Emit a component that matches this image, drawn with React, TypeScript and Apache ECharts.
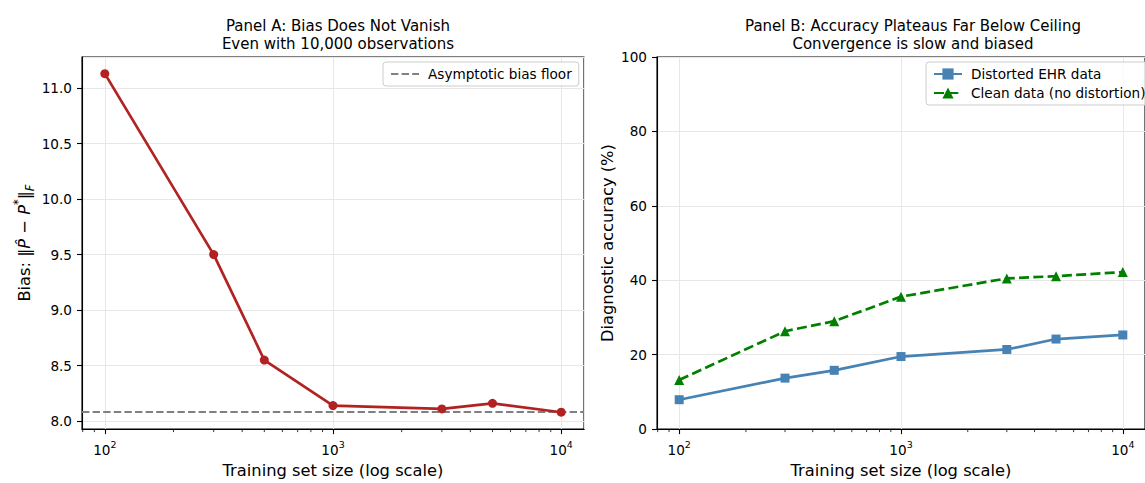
import { useEffect, useRef } from 'react';
import * as echarts from 'echarts';

// ---- data ----
const trainSizes = [100, 300, 500, 1000, 3000, 5000, 10000];
const biasValues = [11.13, 9.5, 8.55, 8.14, 8.11, 8.16, 8.08];
const biasFloor = 8.08;
const distortedAcc = [7.9, 13.7, 15.8, 19.5, 21.4, 24.2, 25.3];
const cleanAcc = [13.2, 26.3, 29.0, 35.6, 40.5, 41.1, 42.2];
const minorTickValues = [80, 90, 200, 300, 400, 500, 600, 700, 800, 900, 2000, 3000, 4000, 5000, 6000, 7000, 8000, 9000];

const X_MIN = Math.pow(10, 1.9);
const X_MAX = Math.pow(10, 4.1);
const BIAS_MIN = 7.928;
const BIAS_MAX = 11.28;
const ACC_MIN = 0;
const ACC_MAX = 100;

const FONT = 'DejaVu Sans';
const TICK_FS = 13.6;
const LABEL_FS = 16.3;
const TITLE_FS = 15;

const GRID_A = { left: 82, top: 57, width: 502, height: 375 };
const GRID_B = { left: 657, top: 57, width: 503, height: 375 };

function pow10Label(v: number) {
  const e = Math.round(Math.log10(v));
  return '{b|10}{e|' + e + '}';
}

function xAxisCfg(gridIndex: number) {
  return {
    type: 'log',
    logBase: 10,
    gridIndex,
    min: X_MIN,
    max: X_MAX,
    axisLine: { show: true, lineStyle: { color: '#000', width: 1.1 } },
    axisTick: { show: true, length: 5, lineStyle: { color: '#000', width: 1.1 } },
    axisLabel: {
      showMinLabel: false,
      showMaxLabel: false,
      margin: 10,
      formatter: (v: number) => pow10Label(v),
      rich: {
        b: { fontFamily: FONT, fontSize: TICK_FS, color: '#000', lineHeight: 18, verticalAlign: 'bottom' },
        e: { fontFamily: FONT, fontSize: 9.5, color: '#000', lineHeight: 14, verticalAlign: 'top' },
      },
    },
    splitLine: { show: true, lineStyle: { color: '#e7e7e7', width: 1 } },
    name: 'Training set size (log scale)',
    nameLocation: 'middle',
    nameGap: 32,
    nameTextStyle: { fontFamily: FONT, fontSize: LABEL_FS, color: '#000' },
  };
}

function minorTickSeries(xAxisIndex: number, yAxisIndex: number, yMin: number) {
  return {
    type: 'custom',
    xAxisIndex,
    yAxisIndex,
    silent: true,
    clip: false,
    z: 10,
    data: minorTickValues.map((v) => [v, yMin]),
    renderItem: (_params: any, api: any) => {
      const p = api.coord([api.value(0), yMin]);
      return {
        type: 'line',
        shape: { x1: p[0], y1: p[1], x2: p[0], y2: p[1] + 3 },
        style: { stroke: '#000', lineWidth: 0.8 },
      };
    },
  };
}

const legendBox = {
  orient: 'vertical',
  padding: [5, 7, 5, 7],
  itemGap: 5,
  itemWidth: 28,
  itemHeight: 14,
  backgroundColor: 'rgba(255,255,255,0.8)',
  borderColor: '#cccccc',
  borderWidth: 1,
  borderRadius: 3,
  textStyle: { fontFamily: FONT, fontSize: TICK_FS, color: '#000', padding: [0, 0, 0, 4] },
};

export default function App() {
  const ref = useRef<HTMLDivElement>(null);
  useEffect(() => {
    if (!ref.current) return;
    const chart = echarts.init(ref.current, undefined, { renderer: 'svg' });
    const option: any = {
      animation: false,
      backgroundColor: '#fff',
      textStyle: { fontFamily: FONT },
      title: [
        {
          text: 'Panel A: Bias Does Not Vanish\nEven with 10,000 observations',
          left: 333,
          top: 12,
          textAlign: 'center',
          textStyle: { fontFamily: FONT, fontSize: TITLE_FS, fontWeight: 'normal', color: '#000', lineHeight: 18 },
        },
        {
          text: 'Panel B: Accuracy Plateaus Far Below Ceiling\nConvergence is slow and biased',
          left: 908,
          top: 12,
          textAlign: 'center',
          textStyle: { fontFamily: FONT, fontSize: TITLE_FS, fontWeight: 'normal', color: '#000', lineHeight: 18 },
        },
      ],
      legend: [
        {
          ...legendBox,
          data: [{ name: 'Asymptotic bias floor', itemStyle: { opacity: 0 } }],
          left: 383,
          top: 62,
        },
        {
          ...legendBox,
          data: ['Distorted EHR data', 'Clean data (no distortion)'],
          left: 926,
          top: 62,
        },
      ],
      grid: [
        { ...GRID_A, show: true, borderColor: '#000', borderWidth: 1.1, backgroundColor: 'transparent' },
        { ...GRID_B, show: true, borderColor: '#000', borderWidth: 1.1, backgroundColor: 'transparent' },
      ],
      xAxis: [xAxisCfg(0), xAxisCfg(1)],
      yAxis: [
        {
          type: 'value',
          gridIndex: 0,
          min: BIAS_MIN,
          max: BIAS_MAX,
          splitNumber: 6,
          axisLine: { show: true, lineStyle: { color: '#000', width: 1.1 } },
          axisTick: { show: true, length: 5, lineStyle: { color: '#000', width: 1.1 } },
          axisLabel: {
            showMinLabel: false,
            showMaxLabel: false,
            margin: 10,
            fontFamily: FONT,
            fontSize: TICK_FS,
            color: '#000',
            formatter: (v: number) => v.toFixed(1),
          },
          splitLine: { show: true, lineStyle: { color: '#e7e7e7', width: 1 } },
          name: '{n|Bias: ‖}{i|P̂}{n| − }{i|P}{s|*}{n|‖}{u|F}',
          nameLocation: 'middle',
          nameGap: 46,
          nameTextStyle: {
            rich: {
              n: { fontFamily: FONT, fontSize: LABEL_FS, color: '#000', lineHeight: 24 },
              i: { fontFamily: FONT, fontSize: LABEL_FS, fontStyle: 'italic', color: '#000', lineHeight: 24 },
              s: { fontFamily: FONT, fontSize: 11.5, color: '#000', lineHeight: 14, verticalAlign: 'top' },
              u: { fontFamily: FONT, fontSize: 11.5, fontStyle: 'italic', color: '#000', lineHeight: 10, verticalAlign: 'bottom' },
            },
          },
        },
        {
          type: 'value',
          gridIndex: 1,
          min: ACC_MIN,
          max: ACC_MAX,
          interval: 20,
          axisLine: { show: true, lineStyle: { color: '#000', width: 1.1 } },
          axisTick: { show: true, length: 5, lineStyle: { color: '#000', width: 1.1 } },
          axisLabel: { margin: 10, fontFamily: FONT, fontSize: TICK_FS, color: '#000' },
          splitLine: { show: true, lineStyle: { color: '#e7e7e7', width: 1 } },
          name: 'Diagnostic accuracy (%)',
          nameLocation: 'middle',
          nameGap: 42,
          nameTextStyle: { fontFamily: FONT, fontSize: LABEL_FS, color: '#000' },
        },
      ],
      series: [
        {
          name: 'Bias',
          type: 'line',
          xAxisIndex: 0,
          yAxisIndex: 0,
          data: trainSizes.map((n, i) => [n, biasValues[i]]),
          symbol: 'circle',
          symbolSize: 9,
          itemStyle: { color: '#b22222' },
          lineStyle: { color: '#b22222', width: 2.7 },
          z: 5,
        },
        {
          name: 'Asymptotic bias floor',
          type: 'line',
          xAxisIndex: 0,
          yAxisIndex: 0,
          data: [],
          symbol: 'none',
          itemStyle: { color: '#808080' },
          lineStyle: { color: '#808080', width: 2, type: [7.4, 3.2] },
          markLine: {
            silent: true,
            symbol: 'none',
            label: { show: false },
            lineStyle: { color: '#808080', width: 2, type: [7.4, 3.2] },
            data: [{ yAxis: biasFloor }],
          },
          z: 4,
        },
        {
          name: 'Distorted EHR data',
          type: 'line',
          xAxisIndex: 1,
          yAxisIndex: 1,
          data: trainSizes.map((n, i) => [n, distortedAcc[i]]),
          symbol: 'rect',
          symbolSize: 9,
          itemStyle: { color: '#4682b4' },
          lineStyle: { color: '#4682b4', width: 2.7 },
          z: 5,
        },
        {
          name: 'Clean data (no distortion)',
          type: 'line',
          xAxisIndex: 1,
          yAxisIndex: 1,
          data: trainSizes.map((n, i) => [n, cleanAcc[i]]),
          symbol: 'triangle',
          symbolSize: 10,
          itemStyle: { color: '#008000' },
          lineStyle: { color: '#008000', width: 2.7, type: [10, 4.3] },
          z: 5,
        },
        minorTickSeries(0, 0, BIAS_MIN),
        minorTickSeries(1, 1, ACC_MIN),
      ],
    };
    chart.setOption(option);
    return () => chart.dispose();
  }, []);
  return <div ref={ref} style={{ position: 'fixed', left: 0, top: 0, width: 1145, height: 483 }} />;
}
